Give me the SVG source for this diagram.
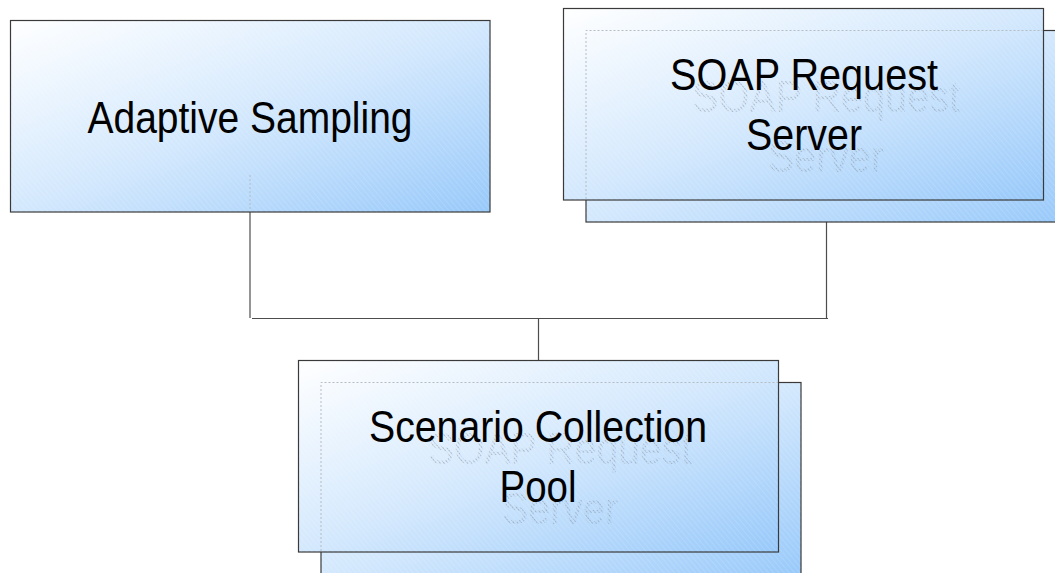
<svg xmlns="http://www.w3.org/2000/svg" width="1055" height="573" viewBox="0 0 1055 573">
<defs>
<linearGradient id="g" x1="0" y1="0" x2="1" y2="1">
<stop offset="0" stop-color="#ffffff"/>
<stop offset="0.5" stop-color="#d3e8fd"/>
<stop offset="1" stop-color="#98c9fa"/>
</linearGradient>
<pattern id="hatch" width="4" height="4" patternUnits="userSpaceOnUse" patternTransform="rotate(-40)">
<rect width="4" height="4" fill="none"/>
<line x1="0" y1="0" x2="0" y2="4" stroke="#ffffff" stroke-opacity="0.25" stroke-width="1"/>
</pattern>
<pattern id="ghost" width="3" height="3" patternUnits="userSpaceOnUse" patternTransform="rotate(-40)">
<line x1="0" y1="0" x2="0" y2="2.2" stroke="#7f8a96" stroke-width="1"/>
</pattern>
<style>
.box{fill:url(#g);stroke:#3a3a3a;stroke-width:1.2}
.hat{fill:url(#hatch);stroke:none}
.lbl{font-family:"Liberation Sans",Arial,sans-serif;font-size:45px;fill:#000;text-anchor:middle}
.gh{font-family:"Liberation Sans",Arial,sans-serif;font-size:45px;fill:url(#ghost);text-anchor:middle}
.dot{fill:none;stroke:#b4bcc4;stroke-width:1;stroke-dasharray:2 2}
.con{fill:none;stroke:#4d4d4d;stroke-width:1.2}
</style>
</defs>
<rect width="1055" height="573" fill="#ffffff"/>

<g id="connectors">
<line class="con" x1="250" y1="212" x2="250" y2="318"/>
<line class="con" x1="252" y1="318.5" x2="828" y2="318.5"/>
<line class="con" x1="826.5" y1="222" x2="826.5" y2="318"/>
<line class="con" x1="538.5" y1="318" x2="538.5" y2="360"/>
</g>

<g id="node-adaptive">
<rect class="box" x="10.5" y="20.5" width="479.5" height="191.5"/>
<rect class="hat" x="11" y="21" width="478.5" height="190.5"/>
<line class="dot" x1="250" y1="175" x2="250" y2="211"/>
<text class="lbl" x="250" y="133" textLength="325" lengthAdjust="spacingAndGlyphs">Adaptive Sampling</text>
</g>

<g id="node-soap">
<rect class="box" x="586" y="30.5" width="480" height="191.5"/>
<rect class="hat" x="586.5" y="31" width="470" height="190.5"/>
<rect class="box" x="563.5" y="8.5" width="480" height="191.5"/>
<rect class="hat" x="564" y="9" width="479" height="190.5"/>
<path class="dot" d="M586,199 V30.5 H1043"/>
<text class="gh" x="826" y="112" textLength="268" lengthAdjust="spacingAndGlyphs">SOAP Request</text>
<text class="gh" x="826" y="172" textLength="116" lengthAdjust="spacingAndGlyphs">Server</text>
<text class="lbl" x="804" y="90" textLength="268" lengthAdjust="spacingAndGlyphs">SOAP Request</text>
<text class="lbl" x="804" y="150" textLength="116" lengthAdjust="spacingAndGlyphs">Server</text>
</g>

<g id="node-scenario">
<rect class="box" x="321" y="382.5" width="480" height="195"/>
<rect class="hat" x="321.5" y="383" width="479" height="195"/>
<rect class="box" x="298.5" y="360.5" width="480" height="191.5"/>
<rect class="hat" x="299" y="361" width="479" height="190.5"/>
<path class="dot" d="M321,551 V382.5 H778"/>
<text class="gh" x="560" y="464" textLength="264" lengthAdjust="spacingAndGlyphs">SOAP Request</text>
<text class="gh" x="560" y="524" textLength="116" lengthAdjust="spacingAndGlyphs">Server</text>
<text class="lbl" x="538" y="442" textLength="338" lengthAdjust="spacingAndGlyphs">Scenario Collection</text>
<text class="lbl" x="538" y="502" textLength="77" lengthAdjust="spacingAndGlyphs">Pool</text>
</g>
</svg>
